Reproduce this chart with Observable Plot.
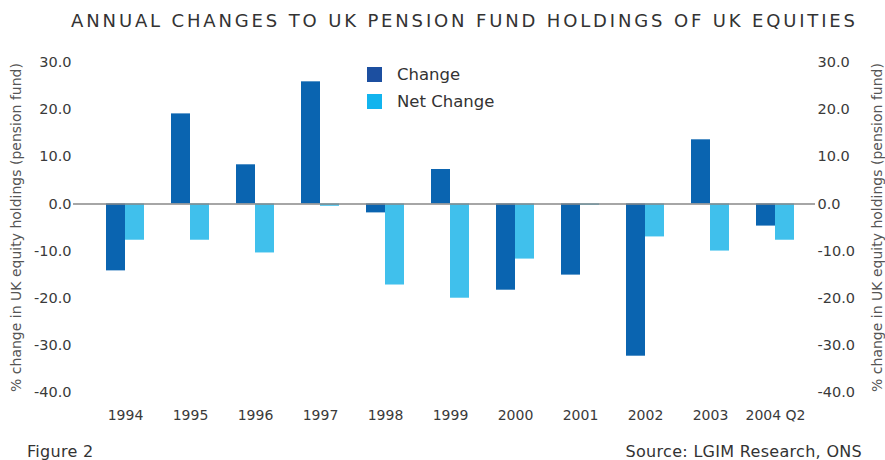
<!DOCTYPE html>
<html><head><meta charset="utf-8">
<script src="https://cdn.jsdelivr.net/npm/d3@7"></script>
<script src="https://cdn.jsdelivr.net/npm/@observablehq/plot@0.6"></script>
<style>
body{margin:0;background:#fff;font-family:"DejaVu Sans",sans-serif;}
#wrap{position:relative;width:885px;height:460px;overflow:hidden;background:#fff}
#title{position:absolute;left:22px;top:10px;width:885px;text-align:center;font-size:18px;letter-spacing:2.85px;color:#333;white-space:nowrap}
#chart{position:absolute;left:0;top:44px}
#legend{position:absolute;left:367px;top:61px;font-size:16.5px;color:#333}
.row{display:flex;align-items:center;height:27px}
.sw{width:15px;height:15px;margin-right:15px}
.cap{position:absolute;top:442px;font-size:16px;letter-spacing:0.3px;color:#333;white-space:nowrap}
</style></head>
<body><div id="wrap">
<div id="title">ANNUAL CHANGES TO UK PENSION FUND HOLDINGS OF UK EQUITIES</div>
<div id="chart"></div>
<div id="legend"></div>
<div class="cap" style="left:27px">Figure 2</div>
<div class="cap" style="right:23px">Source: LGIM Research, ONS</div>
</div>
<script>
const years = ["1994","1995","1996","1997","1998","1999","2000","2001","2002","2003","2004 Q2"];
const change = [-14.2, 19.1, 8.3, 25.9, -1.9, 7.3, -18.3, -15.1, -32.3, 13.6, -4.7];
const netChange = [-7.7, -7.7, -10.4, -0.5, -17.2, -20.0, -11.7, -0.3, -7.0, -10.0, -7.7];
const series = ["Change", "Net Change"];
const colors = ["#0a64b0", "#40c0ec"];
const legendColors = ["#1c4fa0", "#12b4ee"];
const yTicks = [-40, -30, -20, -10, 0, 10, 20, 30];
const axisLabel = "% change in UK equity holdings (pension fund)";

const changeData = years.map((y, i) => ({year: y, series: series[0], value: change[i]}));
const netData = years.map((y, i) => ({year: y, series: series[1], value: netChange[i]}));
const fmt = d => d3.format(".1f")(d).replace("\u2212", "-");

const chart = Plot.plot({
  width: 885, height: 385,
  marginTop: 18, marginBottom: 37, marginLeft: 73, marginRight: 70,
  style: {fontFamily: "DejaVu Sans", fontSize: "14px", color: "#3a3a3a", background: "transparent", overflow: "visible"},
  x: {domain: years, paddingInner: 0.418, paddingOuter: 0.39, align: 0.6, label: null},
  y: {domain: [-40, 30], label: null},
  color: {domain: series, range: colors},
  marks: [
    Plot.axisX({anchor: "bottom", tickSize: 0, tickPadding: 18, label: null, fontSize: 14}),
    Plot.axisY(yTicks, {anchor: "left", tickSize: 0, tickPadding: 2, tickFormat: fmt, fontSize: 14.5, label: null}),
    Plot.axisY(yTicks, {anchor: "right", tickSize: 0, tickPadding: 2, tickFormat: fmt, fontSize: 14.5, label: null}),
    Plot.axisY([], {anchor: "left", tickSize: 0, label: axisLabel, labelAnchor: "center", labelOffset: 62,
      labelArrow: "none", fontSize: 14, fill: "#555", dx: -10}),
    Plot.axisY([], {anchor: "right", tickSize: 0, label: axisLabel, labelAnchor: "center", labelOffset: 66,
      labelArrow: "none", fontSize: 14, fill: "#555", dx: -10}),
    Plot.barY(changeData, {x: "year", y: "value", fill: "series", insetRight: 19}),
    Plot.barY(netData, {x: "year", y: "value", fill: "series", insetLeft: 19}),
    Plot.ruleY([0], {stroke: "#888", strokeWidth: 1.5})
  ]
});
document.getElementById("chart").append(chart);

const legend = document.getElementById("legend");
series.forEach((s, i) => {
  const row = document.createElement("div");
  row.className = "row";
  row.innerHTML = `<span class="sw" style="background:${legendColors[i]}"></span><span>${s}</span>`;
  legend.append(row);
});
</script>
</body></html>
